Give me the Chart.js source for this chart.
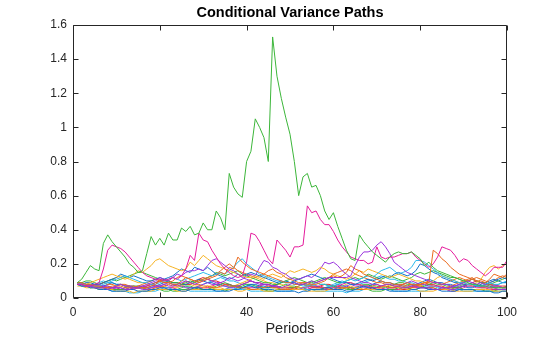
<!DOCTYPE html>
<html>
<head>
<meta charset="utf-8">
<script src="https://cdn.jsdelivr.net/npm/chart.js@4"></script>
<style>html,body{margin:0;padding:0;background:#fff}</style>
</head>
<body>
<canvas id="c" width="560" height="337"></canvas>
<script>
// Simulated conditional variance paths, one value per period (1..100)
const periods = Array.from({length: 100}, (_, i) => i + 1);
const xTicks = [0, 20, 40, 60, 80, 100];
const yTicks = [0, 0.2, 0.4, 0.6, 0.8, 1, 1.2, 1.4, 1.6];

const pathG1 = [
0.09,0.11,0.15,0.19,0.17,0.16,0.32,0.37,0.33,0.30,
0.27,0.24,0.20,0.18,0.15,0.16,0.26,0.36,0.31,0.35,
0.31,0.38,0.34,0.34,0.41,0.39,0.42,0.37,0.38,0.44,
0.40,0.40,0.51,0.47,0.40,0.73,0.65,0.61,0.59,0.80,
0.86,1.05,1.00,0.94,0.80,1.53,1.30,1.17,1.06,0.96,
0.80,0.60,0.71,0.73,0.65,0.66,0.60,0.51,0.46,0.50,
0.42,0.35,0.28,0.23,0.22,0.37,0.33,0.30,0.27,0.25,
0.23,0.21,0.24,0.26,0.27,0.26,0.26,0.27,0.25,0.23,
0.19,0.21,0.18,0.16,0.15,0.14,0.13,0.12,0.11,0.10,
0.09,0.08,0.08,0.07,0.07,0.07,0.06,0.06,0.06,0.06];

const pathM1 = [
0.08,0.08,0.07,0.07,0.08,0.09,0.17,0.28,0.31,0.30,
0.29,0.27,0.24,0.21,0.18,0.15,0.13,0.12,0.11,0.11,
0.10,0.11,0.12,0.11,0.13,0.17,0.25,0.22,0.38,0.34,
0.33,0.28,0.24,0.20,0.17,0.15,0.13,0.12,0.13,0.21,
0.38,0.37,0.33,0.28,0.23,0.20,0.34,0.31,0.28,0.24,
0.30,0.30,0.31,0.54,0.50,0.51,0.46,0.43,0.43,0.39,
0.34,0.30,0.27,0.24,0.23,0.22,0.22,0.20,0.21,0.30,
0.24,0.23,0.24,0.24,0.25,0.26,0.26,0.27,0.24,0.22,
0.20,0.18,0.20,0.24,0.30,0.29,0.28,0.25,0.21,0.23,
0.22,0.19,0.17,0.15,0.13,0.15,0.18,0.18,0.18,0.22];

const pathP1 = [
0.08,0.08,0.07,0.07,0.06,0.06,0.06,0.05,0.06,0.07,
0.08,0.07,0.07,0.06,0.06,0.07,0.08,0.09,0.10,0.12,
0.11,0.10,0.12,0.14,0.13,0.15,0.16,0.16,0.17,0.16,
0.19,0.22,0.23,0.21,0.19,0.17,0.16,0.14,0.12,0.11,
0.10,0.09,0.09,0.08,0.08,0.07,0.07,0.06,0.07,0.08,
0.09,0.08,0.08,0.09,0.10,0.09,0.10,0.11,0.12,0.12,
0.12,0.12,0.12,0.13,0.19,0.24,0.27,0.27,0.28,0.31,
0.33,0.30,0.26,0.21,0.19,0.17,0.15,0.14,0.13,0.12,
0.11,0.10,0.09,0.09,0.08,0.08,0.07,0.07,0.08,0.09,
0.10,0.09,0.08,0.09,0.08,0.07,0.07,0.07,0.06,0.06];

const pathP2 = [
0.09,0.08,0.08,0.07,0.07,0.08,0.07,0.07,0.06,0.06,
0.06,0.05,0.05,0.06,0.06,0.05,0.05,0.06,0.07,0.07,
0.08,0.07,0.07,0.08,0.09,0.10,0.09,0.08,0.09,0.10,
0.11,0.10,0.09,0.09,0.10,0.12,0.11,0.10,0.11,0.13,
0.14,0.13,0.18,0.22,0.21,0.18,0.17,0.15,0.14,0.12,
0.11,0.11,0.12,0.13,0.12,0.14,0.17,0.21,0.20,0.21,
0.19,0.16,0.14,0.12,0.11,0.10,0.09,0.09,0.08,0.08,
0.07,0.08,0.08,0.07,0.07,0.06,0.06,0.07,0.07,0.06,
0.06,0.06,0.05,0.05,0.06,0.06,0.05,0.05,0.06,0.07,
0.08,0.09,0.08,0.07,0.07,0.06,0.06,0.05,0.05,0.05];

const pathO1 = [
0.09,0.09,0.08,0.08,0.07,0.07,0.06,0.06,0.07,0.07,
0.08,0.08,0.07,0.07,0.06,0.06,0.06,0.07,0.08,0.10,
0.09,0.09,0.08,0.08,0.10,0.12,0.11,0.10,0.09,0.10,
0.11,0.12,0.13,0.15,0.14,0.18,0.17,0.24,0.21,0.19,
0.17,0.16,0.15,0.14,0.13,0.12,0.11,0.10,0.09,0.09,
0.08,0.08,0.09,0.09,0.08,0.08,0.09,0.10,0.12,0.13,
0.12,0.13,0.15,0.19,0.17,0.16,0.14,0.13,0.12,0.11,
0.10,0.09,0.09,0.08,0.08,0.08,0.07,0.08,0.08,0.08,
0.09,0.09,0.28,0.26,0.23,0.21,0.18,0.16,0.14,0.13,
0.12,0.11,0.10,0.10,0.09,0.11,0.14,0.13,0.12,0.14];

const pathO2 = [
0.08,0.08,0.07,0.07,0.07,0.08,0.09,0.08,0.08,0.07,
0.07,0.06,0.06,0.06,0.07,0.08,0.09,0.10,0.11,0.10,
0.09,0.09,0.10,0.12,0.13,0.12,0.11,0.10,0.10,0.11,
0.12,0.13,0.14,0.16,0.18,0.20,0.18,0.16,0.15,0.14,
0.13,0.12,0.13,0.14,0.16,0.17,0.15,0.14,0.12,0.11,
0.10,0.09,0.09,0.08,0.08,0.09,0.10,0.11,0.12,0.14,
0.15,0.16,0.17,0.16,0.14,0.13,0.12,0.11,0.10,0.09,
0.09,0.08,0.08,0.07,0.07,0.07,0.06,0.06,0.07,0.08,
0.09,0.10,0.09,0.09,0.08,0.09,0.10,0.11,0.12,0.11,
0.10,0.11,0.12,0.11,0.10,0.09,0.10,0.12,0.13,0.12];

const pathY1 = [
0.09,0.08,0.08,0.09,0.10,0.11,0.12,0.13,0.14,0.13,
0.12,0.11,0.12,0.14,0.16,0.15,0.17,0.19,0.22,0.23,
0.21,0.19,0.18,0.17,0.16,0.17,0.21,0.19,0.22,0.25,
0.23,0.21,0.19,0.18,0.17,0.16,0.15,0.14,0.13,0.12,
0.12,0.13,0.12,0.11,0.13,0.14,0.13,0.12,0.14,0.16,
0.15,0.16,0.17,0.16,0.15,0.16,0.18,0.17,0.15,0.14,
0.13,0.12,0.11,0.12,0.14,0.16,0.15,0.17,0.16,0.15,
0.14,0.13,0.12,0.13,0.14,0.13,0.12,0.11,0.10,0.10,
0.09,0.09,0.10,0.12,0.13,0.12,0.11,0.10,0.09,0.09,
0.08,0.08,0.09,0.11,0.15,0.18,0.19,0.17,0.19,0.20];

const pathC1 = [
0.09,0.08,0.08,0.07,0.07,0.07,0.08,0.09,0.10,0.11,
0.12,0.13,0.12,0.11,0.10,0.09,0.09,0.08,0.08,0.09,
0.10,0.11,0.12,0.11,0.10,0.11,0.12,0.13,0.14,0.15,
0.14,0.13,0.14,0.15,0.14,0.16,0.18,0.21,0.23,0.20,
0.18,0.16,0.14,0.13,0.12,0.11,0.10,0.10,0.09,0.09,
0.08,0.08,0.07,0.07,0.08,0.09,0.08,0.08,0.07,0.07,
0.08,0.09,0.10,0.11,0.10,0.11,0.12,0.13,0.12,0.14,
0.16,0.17,0.18,0.16,0.14,0.15,0.16,0.18,0.22,0.22,
0.21,0.19,0.17,0.15,0.13,0.12,0.11,0.10,0.09,0.09,
0.08,0.08,0.07,0.07,0.08,0.09,0.08,0.08,0.09,0.10];

const pathB1 = [
0.08,0.08,0.09,0.09,0.08,0.08,0.09,0.10,0.11,0.12,
0.14,0.13,0.12,0.13,0.12,0.11,0.10,0.10,0.11,0.12,
0.11,0.12,0.13,0.15,0.17,0.16,0.15,0.18,0.17,0.16,
0.18,0.16,0.14,0.13,0.12,0.11,0.12,0.14,0.13,0.14,
0.15,0.14,0.13,0.12,0.11,0.10,0.09,0.10,0.09,0.09,
0.10,0.11,0.12,0.13,0.14,0.13,0.12,0.11,0.12,0.11,
0.10,0.09,0.09,0.08,0.08,0.09,0.10,0.11,0.10,0.11,
0.12,0.13,0.12,0.14,0.15,0.14,0.13,0.14,0.16,0.20,
0.19,0.17,0.15,0.14,0.12,0.11,0.10,0.09,0.09,0.08,
0.08,0.08,0.07,0.07,0.08,0.09,0.10,0.11,0.12,0.11];

const pathG2 = [
0.09,0.09,0.10,0.10,0.09,0.08,0.09,0.10,0.11,0.10,
0.11,0.12,0.13,0.14,0.15,0.15,0.14,0.13,0.12,0.11,
0.10,0.10,0.09,0.09,0.08,0.09,0.10,0.09,0.10,0.11,
0.12,0.13,0.15,0.14,0.13,0.14,0.15,0.16,0.14,0.13,
0.12,0.11,0.10,0.09,0.09,0.08,0.08,0.09,0.10,0.11,
0.12,0.11,0.10,0.09,0.09,0.10,0.11,0.12,0.11,0.10,
0.09,0.09,0.10,0.11,0.12,0.11,0.12,0.14,0.13,0.12,
0.11,0.12,0.13,0.12,0.11,0.10,0.11,0.12,0.14,0.15,
0.14,0.15,0.16,0.15,0.14,0.13,0.12,0.12,0.11,0.10,
0.10,0.11,0.10,0.09,0.09,0.08,0.09,0.10,0.11,0.12];

const pathL1 = [
0.08,0.07,0.07,0.06,0.06,0.05,0.05,0.05,0.04,0.04,
0.04,0.04,0.05,0.05,0.04,0.04,0.04,0.05,0.05,0.06,
0.06,0.05,0.05,0.05,0.04,0.04,0.05,0.06,0.06,0.05,
0.05,0.05,0.04,0.04,0.04,0.04,0.05,0.05,0.06,0.07,
0.07,0.06,0.06,0.05,0.05,0.05,0.04,0.04,0.04,0.04,
0.04,0.03,0.04,0.04,0.05,0.05,0.05,0.06,0.06,0.05,
0.05,0.05,0.04,0.04,0.05,0.06,0.07,0.06,0.06,0.05,
0.05,0.05,0.04,0.04,0.04,0.04,0.04,0.05,0.05,0.06,
0.06,0.05,0.05,0.05,0.04,0.04,0.04,0.04,0.05,0.05,
0.05,0.05,0.04,0.04,0.04,0.04,0.03,0.03,0.04,0.04];

const pathL2 = [
0.09,0.08,0.08,0.07,0.07,0.07,0.06,0.06,0.06,0.07,
0.08,0.07,0.07,0.06,0.06,0.06,0.05,0.05,0.06,0.06,
0.07,0.08,0.07,0.07,0.08,0.10,0.09,0.08,0.08,0.07,
0.07,0.06,0.06,0.07,0.08,0.07,0.07,0.06,0.06,0.06,
0.05,0.05,0.06,0.06,0.07,0.06,0.06,0.05,0.05,0.05,
0.06,0.07,0.08,0.07,0.07,0.06,0.06,0.06,0.05,0.05,
0.05,0.06,0.06,0.06,0.05,0.05,0.05,0.06,0.07,0.08,
0.07,0.07,0.06,0.06,0.07,0.08,0.09,0.08,0.07,0.07,
0.06,0.06,0.06,0.05,0.05,0.06,0.07,0.08,0.09,0.10,
0.11,0.12,0.10,0.09,0.08,0.08,0.07,0.07,0.06,0.06];

const pathL3 = [
0.08,0.08,0.07,0.06,0.06,0.05,0.05,0.05,0.05,0.04,
0.04,0.04,0.04,0.03,0.04,0.04,0.04,0.04,0.05,0.05,
0.05,0.05,0.05,0.04,0.04,0.04,0.05,0.05,0.05,0.06,
0.07,0.07,0.06,0.06,0.05,0.05,0.05,0.04,0.04,0.05,
0.05,0.05,0.05,0.04,0.04,0.04,0.05,0.06,0.06,0.05,
0.05,0.05,0.05,0.04,0.04,0.04,0.04,0.04,0.05,0.05,
0.05,0.06,0.06,0.07,0.06,0.06,0.05,0.05,0.05,0.05,
0.06,0.08,0.07,0.07,0.06,0.06,0.05,0.05,0.05,0.04,
0.04,0.04,0.04,0.05,0.05,0.05,0.05,0.04,0.04,0.04,
0.04,0.04,0.05,0.05,0.05,0.05,0.04,0.04,0.04,0.04];

const pathL4 = [
0.09,0.08,0.08,0.07,0.07,0.07,0.07,0.06,0.06,0.06,
0.06,0.05,0.06,0.06,0.07,0.07,0.06,0.06,0.06,0.07,
0.08,0.09,0.08,0.07,0.07,0.06,0.06,0.06,0.07,0.08,
0.09,0.08,0.08,0.07,0.07,0.06,0.06,0.07,0.08,0.09,
0.10,0.09,0.08,0.08,0.07,0.07,0.06,0.06,0.06,0.05,
0.05,0.05,0.06,0.06,0.07,0.06,0.06,0.05,0.05,0.05,
0.06,0.06,0.07,0.08,0.07,0.07,0.06,0.06,0.06,0.05,
0.05,0.05,0.06,0.06,0.07,0.08,0.09,0.10,0.09,0.08,
0.08,0.07,0.07,0.07,0.06,0.06,0.06,0.07,0.08,0.09,
0.10,0.11,0.10,0.09,0.08,0.08,0.07,0.07,0.06,0.06];

const pathL5 = [
0.08,0.08,0.07,0.07,0.06,0.06,0.06,0.05,0.05,0.05,
0.05,0.05,0.06,0.07,0.07,0.06,0.06,0.05,0.05,0.05,
0.05,0.05,0.04,0.04,0.05,0.05,0.06,0.06,0.05,0.05,
0.05,0.06,0.07,0.08,0.09,0.08,0.07,0.07,0.06,0.06,
0.05,0.05,0.05,0.05,0.04,0.04,0.05,0.05,0.05,0.06,
0.06,0.07,0.08,0.09,0.10,0.09,0.08,0.08,0.07,0.07,
0.06,0.06,0.06,0.05,0.05,0.05,0.05,0.05,0.04,0.04,
0.04,0.05,0.05,0.05,0.06,0.06,0.06,0.05,0.05,0.06,
0.07,0.08,0.09,0.08,0.08,0.07,0.07,0.06,0.06,0.05,
0.05,0.05,0.05,0.05,0.04,0.04,0.04,0.05,0.05,0.05];

const pathL6 = [
0.08,0.07,0.07,0.06,0.06,0.05,0.05,0.05,0.04,0.04,
0.04,0.04,0.03,0.03,0.03,0.04,0.04,0.04,0.04,0.05,
0.06,0.06,0.05,0.05,0.05,0.05,0.04,0.04,0.04,0.04,
0.04,0.04,0.04,0.04,0.05,0.06,0.06,0.05,0.05,0.05,
0.04,0.04,0.04,0.04,0.04,0.04,0.04,0.04,0.04,0.04,
0.05,0.05,0.05,0.05,0.05,0.04,0.04,0.04,0.04,0.04,
0.04,0.04,0.03,0.04,0.04,0.04,0.05,0.05,0.05,0.05,
0.05,0.05,0.05,0.04,0.04,0.04,0.04,0.04,0.04,0.04,
0.04,0.05,0.05,0.05,0.06,0.06,0.05,0.05,0.05,0.04,
0.04,0.04,0.04,0.04,0.04,0.04,0.04,0.04,0.04,0.04];

const pathL7 = [
0.08,0.08,0.07,0.07,0.07,0.06,0.06,0.06,0.06,0.05,
0.05,0.05,0.05,0.05,0.06,0.06,0.07,0.08,0.07,0.07,
0.06,0.06,0.06,0.05,0.05,0.05,0.05,0.05,0.06,0.06,
0.06,0.07,0.08,0.09,0.08,0.08,0.07,0.07,0.06,0.06,
0.06,0.06,0.07,0.08,0.08,0.07,0.07,0.06,0.06,0.06,
0.05,0.05,0.05,0.05,0.06,0.07,0.07,0.06,0.06,0.06,
0.07,0.08,0.09,0.09,0.08,0.08,0.07,0.07,0.06,0.06,
0.06,0.05,0.05,0.05,0.05,0.06,0.06,0.07,0.06,0.06,
0.06,0.05,0.05,0.05,0.05,0.05,0.04,0.04,0.05,0.06,
0.07,0.07,0.06,0.06,0.06,0.05,0.05,0.05,0.05,0.05];

const pathL8 = [
0.09,0.09,0.08,0.08,0.08,0.07,0.07,0.08,0.09,0.08,
0.08,0.07,0.07,0.07,0.06,0.06,0.06,0.07,0.07,0.08,
0.09,0.10,0.09,0.09,0.08,0.08,0.09,0.10,0.11,0.10,
0.09,0.09,0.08,0.08,0.07,0.07,0.07,0.06,0.06,0.07,
0.08,0.08,0.07,0.07,0.06,0.07,0.08,0.09,0.10,0.09,
0.09,0.08,0.08,0.07,0.07,0.07,0.06,0.06,0.06,0.07,
0.08,0.07,0.07,0.06,0.06,0.06,0.07,0.07,0.08,0.09,
0.10,0.09,0.09,0.08,0.08,0.07,0.07,0.07,0.08,0.09,
0.10,0.11,0.10,0.09,0.09,0.08,0.08,0.07,0.07,0.07,
0.06,0.06,0.07,0.08,0.09,0.10,0.11,0.10,0.09,0.09];

const pathL9 = [
0.08,0.07,0.07,0.07,0.06,0.06,0.07,0.07,0.06,0.06,
0.05,0.05,0.05,0.06,0.06,0.07,0.07,0.08,0.09,0.10,
0.11,0.10,0.09,0.09,0.08,0.08,0.08,0.09,0.11,0.12,
0.11,0.10,0.10,0.09,0.08,0.08,0.07,0.07,0.08,0.09,
0.10,0.09,0.09,0.08,0.08,0.07,0.07,0.06,0.06,0.06,
0.06,0.05,0.05,0.05,0.06,0.06,0.07,0.08,0.08,0.07,
0.07,0.06,0.06,0.06,0.05,0.05,0.05,0.05,0.06,0.06,
0.07,0.07,0.06,0.06,0.06,0.05,0.05,0.06,0.07,0.08,
0.09,0.08,0.08,0.07,0.07,0.06,0.06,0.06,0.06,0.07,
0.08,0.09,0.10,0.09,0.09,0.08,0.08,0.07,0.07,0.07];

const pathL10 = [
0.07,0.07,0.06,0.06,0.07,0.08,0.09,0.10,0.11,0.12,
0.13,0.12,0.11,0.10,0.09,0.09,0.08,0.08,0.07,0.07,
0.07,0.06,0.06,0.06,0.07,0.08,0.08,0.07,0.07,0.06,
0.06,0.06,0.05,0.05,0.05,0.06,0.07,0.08,0.09,0.10,
0.11,0.12,0.11,0.10,0.09,0.09,0.08,0.08,0.07,0.07,
0.06,0.06,0.06,0.07,0.07,0.06,0.06,0.06,0.05,0.05,
0.06,0.07,0.08,0.09,0.08,0.08,0.07,0.07,0.06,0.06,
0.06,0.05,0.05,0.05,0.05,0.05,0.05,0.06,0.06,0.07,
0.08,0.08,0.07,0.07,0.06,0.06,0.06,0.06,0.07,0.08,
0.08,0.07,0.07,0.06,0.06,0.06,0.05,0.05,0.05,0.05];

const pathL11 = [
0.09,0.08,0.08,0.07,0.07,0.06,0.06,0.06,0.05,0.05,
0.05,0.06,0.07,0.06,0.06,0.06,0.05,0.05,0.05,0.05,
0.04,0.04,0.05,0.05,0.06,0.07,0.07,0.06,0.06,0.05,
0.05,0.05,0.05,0.05,0.04,0.05,0.05,0.06,0.07,0.08,
0.08,0.07,0.07,0.06,0.06,0.06,0.06,0.07,0.08,0.07,
0.07,0.06,0.06,0.05,0.05,0.05,0.05,0.05,0.05,0.06,
0.06,0.06,0.05,0.05,0.06,0.07,0.08,0.08,0.07,0.07,
0.06,0.06,0.07,0.08,0.09,0.09,0.08,0.08,0.07,0.07,
0.06,0.06,0.06,0.05,0.05,0.05,0.05,0.06,0.06,0.07,
0.08,0.08,0.07,0.07,0.07,0.06,0.06,0.06,0.06,0.07];

const pathL12 = [
0.08,0.08,0.07,0.07,0.08,0.09,0.10,0.09,0.09,0.08,
0.08,0.07,0.07,0.06,0.06,0.06,0.07,0.08,0.09,0.10,
0.09,0.09,0.08,0.08,0.07,0.07,0.06,0.06,0.07,0.08,
0.09,0.10,0.11,0.12,0.11,0.10,0.10,0.09,0.08,0.08,
0.07,0.07,0.06,0.06,0.06,0.07,0.08,0.09,0.10,0.09,
0.09,0.08,0.08,0.08,0.07,0.07,0.06,0.06,0.07,0.08,
0.09,0.10,0.09,0.09,0.08,0.08,0.09,0.10,0.11,0.12,
0.13,0.12,0.11,0.11,0.10,0.10,0.09,0.09,0.08,0.08,
0.07,0.07,0.07,0.06,0.06,0.06,0.06,0.07,0.08,0.08,
0.07,0.07,0.07,0.06,0.06,0.06,0.07,0.08,0.09,0.09];

// Line colours
const BLUE = '#1170c8', ORANGE = '#ea6a1e', YELLOW = '#f6b323', PURPLE = '#9933dd',
      GREEN = '#3cb63a', CYAN = '#2bb8ec', MAGENTA = '#e41c9c', RED = '#e4262b';

// Paths listed top-most first (Chart.js paints dataset 0 last)
const paths = [
  [pathG1, GREEN], [pathM1, MAGENTA], [pathP1, PURPLE], [pathO1, ORANGE],
  [pathC1, CYAN], [pathY1, YELLOW], [pathP2, PURPLE], [pathB1, BLUE],
  [pathO2, ORANGE], [pathG2, GREEN], [pathL1, BLUE], [pathL2, ORANGE],
  [pathL3, YELLOW], [pathL4, PURPLE], [pathL5, GREEN], [pathL6, CYAN],
  [pathL7, MAGENTA], [pathL8, BLUE], [pathL9, RED], [pathL10, YELLOW],
  [pathL11, GREEN], [pathL12, CYAN]
];

const AXIS = '#262626';
const FONT = "'Liberation Sans', Arial, Helvetica, sans-serif";

// Box outline, inward tick marks and centred title over the axes
const axesBox = {
  id: 'axesBox',
  afterDraw(chart) {
    const {ctx, chartArea: a, scales: {x, y}} = chart;
    const L = Math.round(a.left) + 0.5, R = Math.round(a.right) - 0.5;
    const T = Math.round(a.top) + 0.5, B = Math.round(a.bottom) - 0.5;
    const len = 5;
    ctx.save();
    ctx.strokeStyle = AXIS;
    ctx.lineWidth = 1;
    ctx.beginPath();
    ctx.rect(L, T, R - L, B - T);
    xTicks.forEach(v => {
      const px = Math.round(x.getPixelForValue(v)) + 0.5;
      ctx.moveTo(px, B); ctx.lineTo(px, B - len);
      ctx.moveTo(px, T); ctx.lineTo(px, T + len);
    });
    yTicks.forEach(v => {
      const py = Math.round(y.getPixelForValue(v)) + 0.5;
      ctx.moveTo(L, py); ctx.lineTo(L + len, py);
      ctx.moveTo(R, py); ctx.lineTo(R - len, py);
    });
    ctx.stroke();
    ctx.fillStyle = '#000';
    ctx.font = 'bold 14.5px ' + FONT;
    ctx.textAlign = 'center';
    ctx.textBaseline = 'middle';
    ctx.fillText('Conditional Variance Paths', (a.left + a.right) / 2, 13);
    ctx.restore();
  }
};

new Chart(document.getElementById('c'), {
  type: 'line',
  data: {
    datasets: paths.map(([vals, col]) => ({
      data: vals.map((v, i) => ({x: periods[i], y: v})),
      borderColor: col,
      backgroundColor: col,
      borderWidth: 1,
      pointRadius: 0,
      tension: 0,
      fill: false
    }))
  },
  options: {
    responsive: false,
    animation: false,
    events: [],
    layout: {padding: {left: 0, right: 53, top: 25, bottom: 0}},
    plugins: {legend: {display: false}, tooltip: {enabled: false}, title: {display: false}},
    scales: {
      x: {
        type: 'linear', min: 0, max: 100,
        afterBuildTicks(s) { s.ticks = xTicks.map(v => ({value: v})); },
        ticks: {color: AXIS, font: {family: FONT, size: 12}, padding: 7, maxRotation: 0, autoSkip: false},
        grid: {display: false, drawTicks: false},
        border: {display: false},
        title: {display: true, text: 'Periods', color: AXIS, font: {family: FONT, size: 14.5}, padding: {top: 0, bottom: -1}},
        afterFit(s) { s.height = 39; }
      },
      y: {
        type: 'linear', min: 0, max: 1.6,
        afterBuildTicks(s) { s.ticks = yTicks.map(v => ({value: v})); },
        ticks: {color: AXIS, font: {family: FONT, size: 12}, padding: 6, autoSkip: false,
                callback: v => String(Math.round(v * 10) / 10)},
        grid: {display: false, drawTicks: false},
        border: {display: false},
        afterFit(s) { s.width = 73; }
      }
    }
  },
  plugins: [axesBox]
});
</script>
</body>
</html>
